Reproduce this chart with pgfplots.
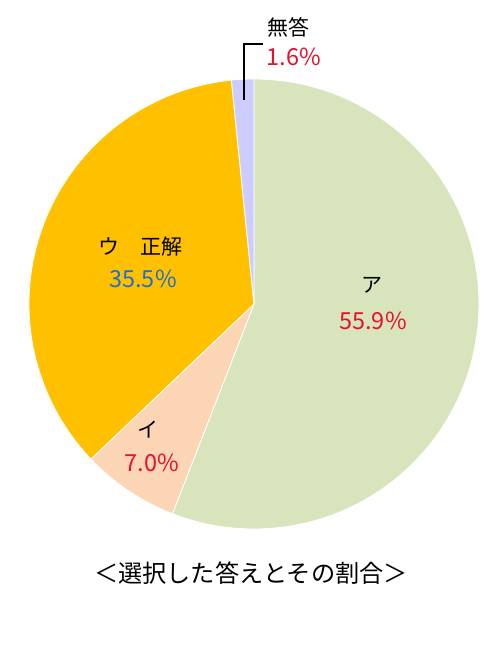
\documentclass[border=0pt]{standalone}
\usepackage{pgfplots}
\pgfplotsset{compat=1.18}
\usepackage{fontspec}
\setmainfont{Noto Sans CJK JP}
\definecolor{cA}{HTML}{D8E4BC}
\definecolor{cI}{HTML}{FCD5B4}
\definecolor{cU}{HTML}{FFC000}
\definecolor{cN}{HTML}{CCCCFF}
\definecolor{pctred}{HTML}{E8112D}
\definecolor{pctblue}{HTML}{1F6FD0}
% shares in percent, clockwise from the top: ア 55.9, イ 7.0, ウ 35.5, 無答 1.6
\newcommand{\pieslice}[3]{%
  \addplot[fill=#1, draw=white, line width=0.8pt, domain=#2:#3, samples=90]
    ({254+225*sin(3.6*x)}, {356+225*cos(3.6*x)}) -- (axis cs:254,356) -- cycle;}
\begin{document}
\begin{tikzpicture}
\begin{axis}[
    width=500pt, height=660pt, scale only axis,
    xmin=0, xmax=500, ymin=0, ymax=660,
    hide axis, clip=false,
    ]
\pieslice{cA}{0}{55.9}
\pieslice{cI}{55.9}{62.9}
\pieslice{cU}{62.9}{98.4}
\pieslice{cN}{98.4}{100}
\draw[line width=1.8pt] (axis cs:244,560) -- (axis cs:244,616) -- (axis cs:263,616);
\tikzset{lbl/.style={font=\fontsize{21}{24}\selectfont, inner sep=0pt},
         pct/.style={font=\fontsize{23.5}{26}\selectfont, inner sep=0pt}}
\node[lbl] at (axis cs:372,375) {ア};
\node[pct, text=pctred] at (axis cs:373,339) {55.9\%};
\node[lbl] at (axis cs:148,230) {イ};
\node[pct, text=pctred] at (axis cs:152,197) {7.0\%};
\node[lbl] at (axis cs:140,413) {ウ　正解};
\node[pct, text=pctblue] at (axis cs:143,381) {35.5\%};
\node[lbl] at (axis cs:288,633) {無答};
\node[pct, text=pctred] at (axis cs:294,603) {1.6\%};
\node[font=\fontsize{24.2}{27}\selectfont, inner sep=0pt] at (axis cs:251,87) {＜選択した答えとその割合＞};
\end{axis}
\path (0,0) rectangle (500pt,660pt);
\end{tikzpicture}
\end{document}
